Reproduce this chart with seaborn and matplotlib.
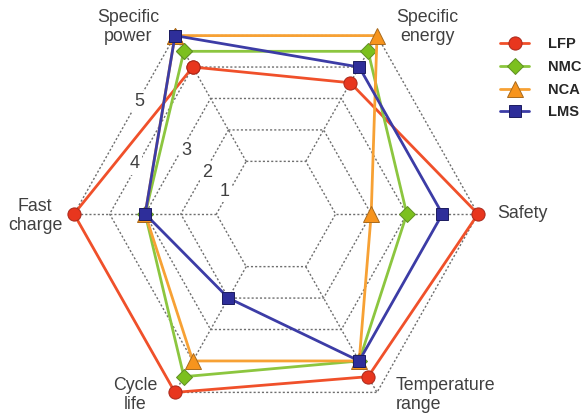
import numpy as np
import pandas as pd
import matplotlib
matplotlib.use("Agg")
import matplotlib.pyplot as plt
import seaborn as sns

# axes of the radar, counter-clockwise from the right
categories = ["Specific power", "Specific energy", "Safety",
              "Temperature range", "Cycle life", "Fast charge"]
angles_deg = [120, 60, 0, 300, 240, 180]

chemistries = ["LFP", "NMC", "NCA", "LMS"]
lfp = [4, 3.5, 5, 4.5, 5, 5]
nmc = [4.5, 4.5, 3, 4, 4.5, 3]
nca = [5, 5, 2, 4, 4, 3]
lms = [5, 4, 4, 4, 2, 3]
levels = [1, 2, 3, 4, 5]

sns.set_style("white")
plt.rcParams["font.family"] = ["Liberation Sans", "DejaVu Sans"]

fig = plt.figure(figsize=(5.83, 4.15), dpi=100)
ax = fig.add_axes([74 / 583, -5 / 415, 404 / 583, 412 / 415], projection="polar")
ax.set_aspect("auto")
ax.set_ylim(1, 5)
ax.set_rorigin(-0.674)
ax.axis("off")

theta = np.deg2rad(angles_deg)
theta_closed = np.append(theta, theta[0])

# hexagonal dotted grid
grid_kw = dict(color="#6e6e6e", lw=1.0, ls=(0, (1.5, 1.5)), clip_on=False, zorder=1)
for lv in levels:
    ax.plot(theta_closed, [lv] * 7, **grid_kw)
for t in theta:
    ax.plot([t, t], [levels[0], levels[-1]], **grid_kw)

# level numbers sitting on the hexagon edges
num_pos = {"1": (156.7, 0.885), "2": (149.3, 1.58), "3": (145.4, 2.40),
           "4": (160.8, 3.52), "5": (141.2, 4.26)}
for txt, (a, r) in num_pos.items():
    ax.text(np.deg2rad(a), r, txt, ha="center", va="center", fontsize=13,
            color="#404040", zorder=2,
            bbox=dict(boxstyle="square,pad=0.12", fc="white", ec="none"))

styles = {
    "LFP": dict(color="#f0502a", marker="o", ms=9.5, mfc="#e8361e", mec="#a8281a"),
    "NMC": dict(color="#8cc63f", marker="D", ms=8.5, mfc="#7cc01e", mec="#5f8f25"),
    "NCA": dict(color="#f7a134", marker="^", ms=11, mfc="#f7941d", mec="#a86a1c"),
    "LMS": dict(color="#3c3ca6", marker="s", ms=9, mfc="#2e2e9a", mec="#1c1c60"),
}
series = {"LFP": lfp, "NMC": nmc, "NCA": nca, "LMS": lms}

for name in chemistries:
    vals = series[name]
    df = pd.DataFrame({"theta": theta_closed, "value": vals + vals[:1]})
    st = styles[name]
    sns.lineplot(data=df, x="theta", y="value", sort=False, estimator=None,
                 color=st["color"], marker=st["marker"], markersize=st["ms"],
                 markerfacecolor=st["mfc"], markeredgecolor=st["mec"],
                 markeredgewidth=0.7, linewidth=2.0, clip_on=False,
                 label=name, ax=ax, zorder=3)

ax.set_xlabel("")
ax.set_ylabel("")
handles, labels = ax.get_legend_handles_labels()
if ax.get_legend() is not None:
    ax.get_legend().remove()
fig.legend(handles, labels, loc="upper left", bbox_to_anchor=(487 / 583, 1 - 24 / 415),
           frameon=False, handlelength=2.0, handletextpad=1.3, labelspacing=0.6,
           prop={"weight": "bold", "size": 10.5})

label_kw = dict(fontsize=12.8, color="#404040", linespacing=1.1)
fig.text(128 / 583, 1 - 27 / 415, "Specific\npower", ha="center", va="center",
         multialignment="center", **label_kw)
fig.text(427 / 583, 1 - 27 / 415, "Specific\nenergy", ha="center", va="center",
         multialignment="center", **label_kw)
fig.text(497 / 583, 1 - 213 / 415, "Safety", ha="left", va="center", **label_kw)
fig.text(396 / 583, 1 - 395 / 415, "Temperature\nrange", ha="left", va="center",
         multialignment="left", **label_kw)
fig.text(135 / 583, 1 - 395 / 415, "Cycle\nlife", ha="center", va="center",
         multialignment="center", **label_kw)
fig.text(35 / 583, 1 - 216 / 415, "Fast\ncharge", ha="center", va="center",
         multialignment="center", **label_kw)

fig.savefig("out.png", dpi=100)
